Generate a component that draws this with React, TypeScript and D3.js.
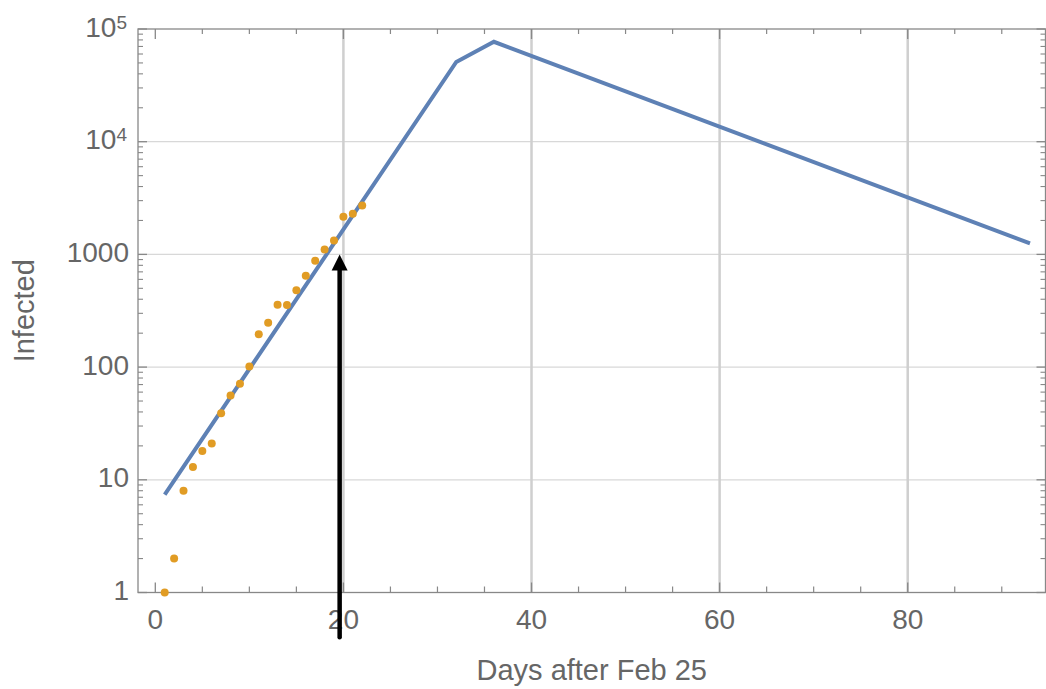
import React from "react";
import * as d3 from "d3";

const W = 1046;
const H = 689;

// model curve (straight pieces on the log scale)
const modelDays = [1, 32, 36, 93];
const modelInfected = [7.4, 51000, 77000, 1250];

// reported cases
const caseDays = [1, 2, 3, 4, 5, 6, 7, 8, 9, 10, 11, 12, 13, 14, 15, 16, 17, 18, 19, 20, 21, 22];
const caseInfected = [1, 2, 8, 13, 18, 21, 39, 56, 71, 101, 196, 247, 357, 355, 481, 645, 877, 1105, 1328, 2153, 2290, 2717];

// axes
const xTicks = [0, 20, 40, 60, 80];
const xTickLabels = ["0", "20", "40", "60", "80"];
const xGrid = [20, 40, 60, 80];
const yTicks = [1, 10, 100, 1000, 10000, 100000];
const yLabelBase = ["1", "10", "100", "1000", "10", "10"];
const yLabelExp = ["", "", "", "", "4", "5"];
const yGrid = [10, 100, 1000, 10000];

// arrow marking day ~20
const arrowDay = 19.6;
const arrowFrom = 0.4;
const arrowTo = 1000;

const font = "'Liberation Sans', Arial, Helvetica, sans-serif";
const textColor = "#666";
const frameColor = "#888";

export default function App() {
  const left = 138, right = 1045.5, top = 29, bottom = 592.5;
  const x = d3.scaleLinear().domain([-1.84, 94.65]).range([left, right]);
  const y = d3.scaleLog().domain([1, 100000]).range([bottom, top]);

  const line = d3
    .line<number>()
    .x((d, i) => x(modelDays[i]))
    .y((d) => y(d));

  const xMinor = d3.range(5, 95, 5).filter((d) => d % 20 !== 0 && x(d) < right);
  const yMinor: number[] = [];
  for (let dec = 1; dec < 100000; dec *= 10) {
    for (let k = 2; k <= 9; k++) yMinor.push(dec * k);
  }

  const ax = x(arrowDay);
  const tipY = y(arrowTo);
  const headLen = 16;
  const headHalf = 8;

  return (
    <svg
      width={W}
      height={H}
      style={{ position: "absolute", left: 0, top: 0, background: "#fff" }}
      fontFamily={font}
    >
      {/* grid */}
      {yGrid.map((v) => (
        <line key={"hg" + v} x1={left} x2={right} y1={y(v)} y2={y(v)} stroke="#d8d8d8" strokeWidth={1.3} />
      ))}
      {xGrid.map((v) => (
        <line key={"vg" + v} x1={x(v)} x2={x(v)} y1={top} y2={bottom} stroke="#cfcfcf" strokeWidth={2.5} />
      ))}

      {/* frame */}
      <rect x={left} y={top} width={right - left} height={bottom - top} fill="none" stroke={frameColor} strokeWidth={1.3} />

      {/* x ticks, bottom and top */}
      {xTicks.map((v) => (
        <g key={"xt" + v}>
          <line x1={x(v)} x2={x(v)} y1={bottom} y2={bottom - 10} stroke={frameColor} strokeWidth={1.3} />
          <line x1={x(v)} x2={x(v)} y1={top} y2={top + 10} stroke={frameColor} strokeWidth={1.3} />
        </g>
      ))}
      {xMinor.map((v) => (
        <g key={"xm" + v}>
          <line x1={x(v)} x2={x(v)} y1={bottom} y2={bottom - 6} stroke={frameColor} strokeWidth={1.2} />
          <line x1={x(v)} x2={x(v)} y1={top} y2={top + 5} stroke={frameColor} strokeWidth={1.2} />
        </g>
      ))}

      {/* y ticks, left and right */}
      {yTicks.map((v) => (
        <g key={"yt" + v}>
          <line x1={left} x2={left + 9} y1={y(v)} y2={y(v)} stroke={frameColor} strokeWidth={1.3} />
          <line x1={right} x2={right - 9} y1={y(v)} y2={y(v)} stroke={frameColor} strokeWidth={1.3} />
        </g>
      ))}
      {yMinor.map((v) => (
        <g key={"ym" + v}>
          <line x1={left} x2={left + 5} y1={y(v)} y2={y(v)} stroke={frameColor} strokeWidth={1.1} />
          <line x1={right} x2={right - 5} y1={y(v)} y2={y(v)} stroke={frameColor} strokeWidth={1.1} />
        </g>
      ))}

      {/* tick labels */}
      {xTicks.map((v, i) => (
        <text key={"xl" + v} x={x(v)} y={628.5} textAnchor="middle" fontSize={28} fill={textColor}>
          {xTickLabels[i]}
        </text>
      ))}
      {yTicks.map((v, i) => (
        <text key={"yl" + v} x={yLabelExp[i] ? 127 : 129} y={y(v) + 7.5} textAnchor="end" fontSize={28} fill={textColor}>
          <tspan>{yLabelBase[i]}</tspan>
          {yLabelExp[i] && (
            <tspan fontSize={19} dy={-8}>
              {yLabelExp[i]}
            </tspan>
          )}
        </text>
      ))}

      {/* axis titles */}
      <text x={(left + right) / 2} y={680} textAnchor="middle" fontSize={29} fill={textColor}>
        Days after Feb 25
      </text>
      <text
        transform={`translate(34,${(top + bottom) / 2}) rotate(-90)`}
        textAnchor="middle"
        fontSize={29}
        fill={textColor}
      >
        Infected
      </text>

      {/* model */}
      <path d={line(modelInfected) || ""} fill="none" stroke="#5E81B5" strokeWidth={4} strokeLinejoin="miter" />

      {/* cases */}
      {caseDays.map((d, i) => (
        <circle key={"c" + d} cx={x(d)} cy={y(caseInfected[i])} r={4} fill="#E19C24" />
      ))}

      {/* arrow */}
      <line x1={ax} x2={ax} y1={y(arrowFrom)} y2={tipY + headLen - 1} stroke="#000" strokeWidth={4.5} strokeLinecap="round" />
      <path
        d={`M${ax},${tipY} L${ax + headHalf},${tipY + headLen} L${ax - headHalf},${tipY + headLen} Z`}
        fill="#000"
      />
    </svg>
  );
}
